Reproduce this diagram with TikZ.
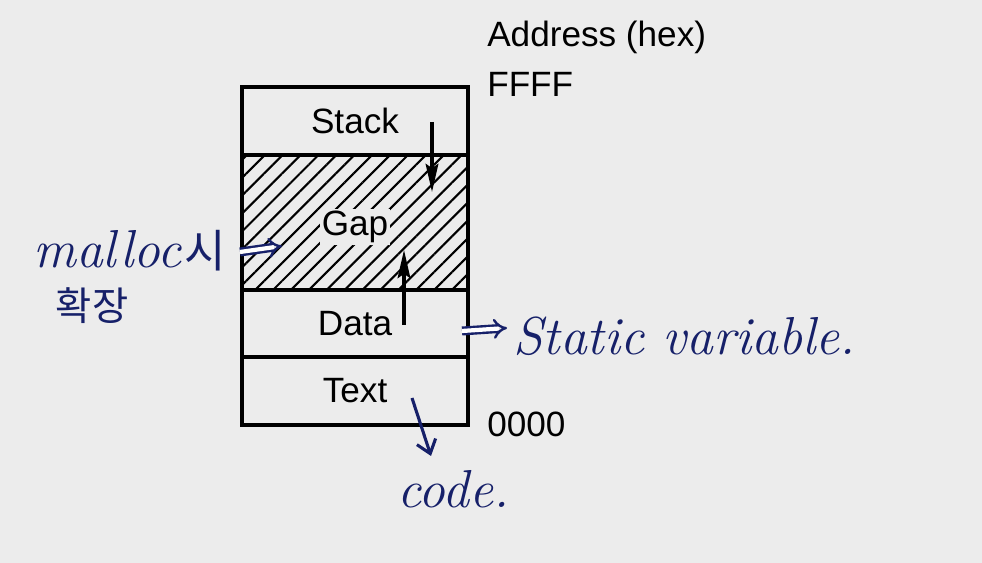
\documentclass[tikz,border=0pt]{standalone}
\usepackage{fontspec}
\newfontfamily\labelfont{Liberation Sans}
\newfontfamily\kofont{Noto Sans CJK KR}
\usetikzlibrary{arrows.meta, positioning, patterns.meta}
\definecolor{paper}{RGB}{236, 236, 236}
\definecolor{inkblue}{RGB}{22, 32, 105}

\begin{document}
\begin{tikzpicture}[
  x=0.025cm, y=-0.025cm,
  seg/.style={draw, line width=2.3pt, minimum width=5.65cm, outer sep=0pt, inner sep=0pt, font=\labelfont\fontsize{25}{25}\selectfont},
  addr/.style={font=\labelfont\fontsize{25}{25}\selectfont, inner sep=0pt},
  growarrow/.style={line width=2.2pt, -{Stealth[length=20pt, width=9pt, inset=3pt]}},
  ink/.style={text=inkblue, inner sep=0pt, font=\itshape\fontsize{38}{38}\selectfont},
  kor/.style={text=inkblue, inner sep=0pt, font=\kofont\fontsize{28}{28}\selectfont},
  pen/.style={draw=inkblue, line width=1.7pt, double, double distance=3pt, -{Implies}},
  penline/.style={draw=inkblue, line width=2.2pt, -{Straight Barb[length=9pt, width=14pt]}}
]
  \useasboundingbox[fill=paper] (0,0) rectangle (982,563);

  % memory layout
  \node[seg, minimum height=1.7cm] (stack) at (355,121) {Stack};
  \node[seg, minimum height=3.375cm, below=0pt of stack, pattern={Lines[angle=45, distance=9pt, line width=1.5pt]}] (gap) {};
  \node[seg, draw=none, fill=paper, inner sep=1.5pt, minimum width=0pt] (gaplabel) at (355,227) {Gap};
  \node[seg, minimum height=1.675cm, below=0pt of gap] (data) {Data};
  \node[seg, minimum height=1.7cm, below=0pt of data] (text) {Text};

  % addresses
  \node[addr, anchor=base west] (ffff) at (487,97) {FFFF};
  \node[addr, anchor=base west] (hex) at (487,47) {Address (hex)};
  \node[addr, anchor=base west] (zero) at (487,437) {0000};

  % stack grows down, heap grows up
  \coordinate (stacktop) at (432,122);
  \coordinate (stackend) at (432,192);
  \coordinate (heaptop) at (404,325);
  \coordinate (heapend) at (404,250);
  \draw[growarrow] (stacktop) -- (stackend);
  \draw[growarrow] (heaptop) -- (heapend);

  % notes
  \node[ink, anchor=base west] (malloc) at (33,268) {malloc\kern2pt{\upshape\kofont\fontsize{32}{32}\selectfont 시}};
  \node[kor] (expand) at (92,306) {확장};
  \node[ink, anchor=base west] (static) at (513,355) {Static variable.};
  \node[ink, anchor=base west] (code) at (397,508) {code.};

  \coordinate (mallocend) at (240,252);
  \coordinate (gapin) at (282,246);
  \coordinate (dataout) at (462,331);
  \coordinate (staticin) at (507,328);
  \coordinate (textout) at (412,398);
  \coordinate (codein) at (431,456);
  \draw[pen] (mallocend) -- (gapin);
  \draw[pen] (dataout) -- (staticin);
  \draw[penline] (textout) -- (codein);
\end{tikzpicture}
\end{document}
